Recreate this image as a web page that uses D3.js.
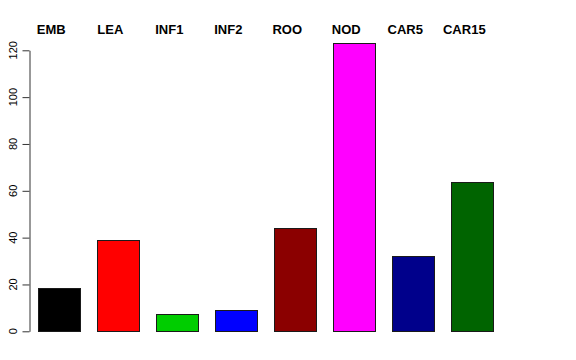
<!DOCTYPE html>
<html lang="en">
<head>
  <meta charset="UTF-8">
  <title>Barplot</title>
  <script src="https://d3js.org/d3.v7.min.js"></script>
  <style>
    body { margin: 0; background: #fff; }
    svg { display: block; }
    text { font-family: "Liberation Sans", Arial, sans-serif; }
  </style>
</head>
<body>
  <div id="chart"></div>
  <script>
    // data
    const categories = ["EMB", "LEA", "INF1", "INF2", "ROO", "NOD", "CAR5", "CAR15"];
    const values = [18.7, 38.9, 7.3, 9.3, 44.3, 123.1, 32.0, 63.9];
    const colors = ["#000000", "#FF0000", "#00CD00", "#0000FF", "#8B0000", "#FF00FF", "#00008B", "#006400"];
    const yTicks = [0, 20, 40, 60, 80, 100, 120];

    const width = 576, height = 360;

    const svg = d3.select("#chart").append("svg")
      .attr("width", width).attr("height", height);

    // band scale: bar width ~42, step 59
    const x = d3.scaleBand()
      .domain(categories)
      .range([29.8, 29.8 + 59 * 8])
      .paddingInner(17 / 59)
      .paddingOuter(8.5 / 59);

    const y = d3.scaleLinear().domain([0, 120]).range([331.3, 50.3]);

    // bars
    svg.selectAll("rect.bar")
      .data(values)
      .enter()
      .append("rect")
      .attr("class", "bar")
      .attr("x", (d, i) => Math.round(x(categories[i])) + 0.5)
      .attr("y", d => Math.round(y(d)) + 0.5)
      .attr("width", Math.round(x.bandwidth()))
      .attr("height", d => Math.round(y(0)) - Math.round(y(d)))
      .attr("fill", (d, i) => colors[i])
      .attr("stroke", "#1a1a1a")
      .attr("stroke-width", 1);

    // y axis, R style
    const axis = svg.append("g").attr("transform", "translate(29.5,0)");
    axis.call(d3.axisLeft(y).tickValues(yTicks).tickSize(7).tickSizeOuter(0));
    axis.select(".domain").attr("stroke", "#333");
    axis.selectAll(".tick line").attr("stroke", "#333");
    axis.selectAll(".tick text").remove();

    svg.selectAll("text.ylab")
      .data(yTicks)
      .enter()
      .append("text")
      .attr("class", "ylab")
      .attr("transform", d => `translate(17,${y(d)}) rotate(-90)`)
      .attr("text-anchor", "middle")
      .attr("font-size", 11)
      .attr("fill", "#000")
      .text(d => d);

    // category labels on top
    svg.selectAll("text.cat")
      .data(categories)
      .enter()
      .append("text")
      .attr("class", "cat")
      .attr("x", d => x(d) + x.bandwidth() / 2 - 8)
      .attr("y", 34)
      .attr("text-anchor", "middle")
      .attr("font-size", 13)
      .attr("font-weight", "bold")
      .attr("fill", "#000")
      .text(d => d);
  </script>
</body>
</html>
